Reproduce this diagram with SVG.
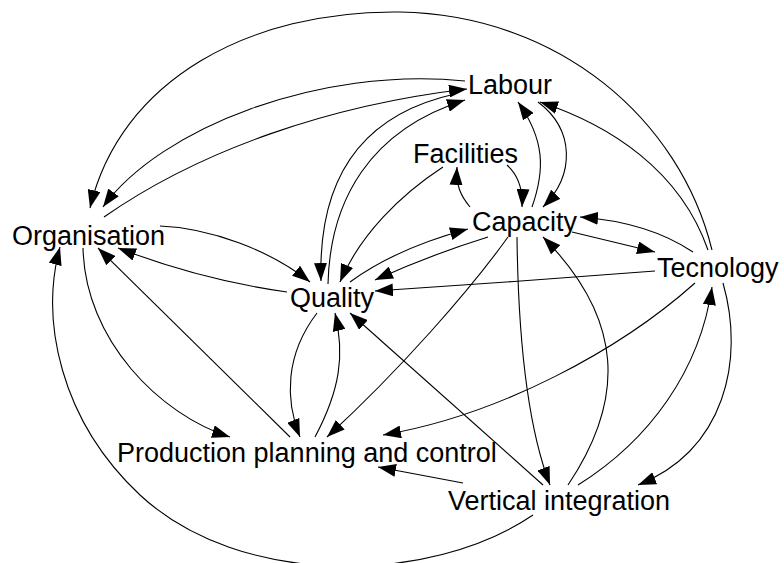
<svg xmlns="http://www.w3.org/2000/svg" width="784" height="563" viewBox="0 0 784 563">
<style>
.n text{font-family:"Liberation Sans",Arial,sans-serif;font-size:27px;fill:#000}
.e path{fill:none;stroke:#000;stroke-width:1.1}
.e path.a{marker-end:url(#ah)}
</style>
<defs>
<marker id="ah" markerUnits="userSpaceOnUse" markerWidth="18" markerHeight="13" refX="18" refY="6.5" orient="auto">
<path d="M0,0 L18,6.5 L0,13 z" fill="#000"/>
</marker>
</defs>
<rect width="784" height="563" fill="#fff"/>
<g class="e" id="connectors">
<path class="a" d="M712,250 C680,120 560,15 400,12 C250,10 120,80 90,208"/>
<path class="a" d="M465,81 C320,66 160,128 103,207"/>
<path class="a" d="M104,217 C200,150 330,105 467,89"/>
<path class="a" d="M455,94 C360,115 318,180 321,281"/>
<path class="a" d="M328,284 C330,200 370,130 465,100"/>
<path class="a" d="M160,226 C210,228 270,250 310,282"/>
<path class="a" d="M287,292 C230,284 170,268 118,248"/>
<path class="a" d="M290,437 L98,248"/>
<path class="a" d="M83,248 C85,340 160,415 230,437"/>
<path class="a" d="M533,515 C430,585 240,588 140,495 C60,420 40,320 60,247"/>
<path class="a" d="M350,282 C380,260 420,242 468,229"/>
<path class="a" d="M488,237 Q430,255 375,280"/>
<path class="a" d="M443,167 C400,195 360,235 340,282"/>
<path class="a" d="M655,271 C560,278 470,285 375,291"/>
<path class="a" d="M543,485 L350,313"/>
<path class="a" d="M317,313 C285,355 285,400 300,437"/>
<path class="a" d="M315,437 C340,390 345,355 335,313"/>
<path class="a" d="M508,237 C470,290 400,370 327,437"/>
<path class="a" d="M695,283 C620,350 500,415 383,435"/>
<path class="a" d="M463,483 L378,467"/>
<path class="a" d="M517,237 C518,320 525,420 550,485"/>
<path class="a" d="M568,485 C625,400 625,320 543,237"/>
<path class="a" d="M578,485 C650,440 700,370 712,287"/>
<path class="a" d="M723,283 C745,360 725,450 638,485"/>
<path class="a" d="M693,252 C660,230 620,220 580,217"/>
<path class="a" d="M572,232 L655,252"/>
<path class="a" d="M708,250 C680,170 610,125 540,102"/>
<path class="a" d="M532,207 C545,170 545,140 518,102"/>
<path class="a" d="M538,102 C575,130 575,175 543,207"/>
<path class="a" d="M470,207 C460,195 456,185 457,167"/>
<path class="a" d="M507,165 C518,175 523,190 522,207"/>
</g>
<g class="n" id="labour"><text x="468" y="94">Labour</text></g>
<g class="n" id="facilities"><text x="413" y="163">Facilities</text></g>
<g class="n" id="capacity"><text x="472" y="231">Capacity</text></g>
<g class="n" id="organisation"><text x="12" y="245">Organisation</text></g>
<g class="n" id="quality"><text x="290" y="307">Quality</text></g>
<g class="n" id="tecnology"><text x="657" y="277">Tecnology</text></g>
<g class="n" id="ppc"><text x="117" y="462">Production planning and control</text></g>
<g class="n" id="vertical"><text x="448" y="510">Vertical integration</text></g>
</svg>
